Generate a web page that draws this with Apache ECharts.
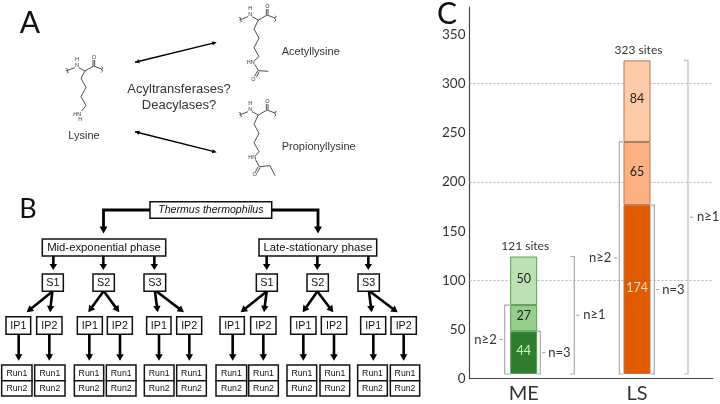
<!DOCTYPE html>
<html>
<head>
<meta charset="utf-8">
<script src="https://cdn.jsdelivr.net/npm/echarts@6/dist/echarts.min.js"></script>
<style>html,body{margin:0;padding:0;background:#fff}#c{width:720px;height:404px}</style>
</head>
<body>
<div id="c"></div>
<script>
// ---- Panel C data ----
const categories = ['ME', 'LS'];
const sitesN3 = [44, 174];
const sitesN2 = [27, 65];
const sitesN1 = [50, 84];
const totals = [121, 323];
const yTicks = [0, 50, 100, 150, 200, 250, 300, 350];
const gridValues = [100, 200, 300];
const bracketLabels = ['n=3', 'n≥2', 'n≥1'];
const bracketMax = [[44, 71, 121], [174, 239, 323]];

// ---- Panel B labels ----
const rootLabel = 'Thermus thermophilus';
const phaseLabels = ['Mid-exponential phase', 'Late-stationary phase'];
const sampleLabels = ['S1', 'S2', 'S3'];
const ipLabels = ['IP1', 'IP2'];
const runLabels = ['Run1', 'Run2'];

// ---- Panel A labels ----
const moleculeLabels = ['Lysine', 'Acetyllysine', 'Propionyllysine'];
const questionLabels = ['Acyltransferases?', 'Deacylases?'];

// ---- layout (not data) ----
const sansFont = '"Liberation Sans"';
const calFont = 'Lato';

const g = [];
function txt(x, y, text, size, opt) {
  opt = opt || {};
  g.push({type: 'text', z: 20, style: {x, y, text, fill: opt.fill || '#111',
    font: (opt.italic ? 'italic ' : '') + size + 'px ' + (opt.family || sansFont),
    textAlign: opt.align || 'center', textVerticalAlign: 'middle'}});
}
function line(pts, w, color) {
  g.push({type: 'polyline', z: 10, shape: {points: pts},
    style: {stroke: color || '#222', lineWidth: w, fill: null, lineJoin: 'miter'}});
}
function head(x1, y1, x2, y2, len, wid, color) {
  const a = Math.atan2(y2 - y1, x2 - x1), c = Math.cos(a), s = Math.sin(a);
  const bx = x2 - c * len, by = y2 - s * len;
  g.push({type: 'polygon', z: 11, shape: {points: [[x2, y2],
    [bx - s * wid / 2, by + c * wid / 2], [bx + s * wid / 2, by - c * wid / 2]]},
    style: {fill: color || '#000'}});
}
function arrow(pts, w, len, wid, both) {
  const n = pts.length, a = Math.atan2(pts[n-1][1]-pts[n-2][1], pts[n-1][0]-pts[n-2][0]);
  const drawn = pts.map(p => p.slice());
  drawn[n-1] = [pts[n-1][0] - Math.cos(a)*len*0.8, pts[n-1][1] - Math.sin(a)*len*0.8];
  line(drawn, w, '#000');
  head(pts[n-2][0], pts[n-2][1], pts[n-1][0], pts[n-1][1], len, wid);
  if (both) head(pts[1][0], pts[1][1], pts[0][0], pts[0][1], len, wid);
}
function box(x1, y1, x2, y2, label, size, opt) {
  g.push({type: 'rect', z: 8, shape: {x: x1, y: y1, width: x2 - x1, height: y2 - y1},
    style: {fill: '#fff', stroke: '#111', lineWidth: 1.5}});
  txt((x1 + x2) / 2, (y1 + y2) / 2 + 0.3, label, size, opt);
}

// ---- panel letters ----
txt(30, 23, 'A', 30, {family: calFont});
txt(28, 209, 'B', 27, {family: calFont});
txt(447, 14, 'C', 30, {family: calFont});

// ---- Panel A structures (drawn in 1/3-pixel sketch units) ----
const s3 = p => [p[0] / 3, p[1] / 3];
function skeleton(dx, dy) {
  const P = pts => pts.map(p => s3([p[0] + dx, p[1] + dy]));
  line(P([[197, 205], [203, 208], [199, 212], [205, 216], [201, 220]]), 0.7);
  line(P([[201, 212], [224, 203]]), 0.8);
  line(P([[236, 203], [255, 213], [281, 198], [305, 207]]), 0.8);
  line(P([[279, 197], [279, 180]]), 0.8);
  line(P([[284, 197], [284, 180]]), 0.8);
  line(P([[305, 200], [309, 204], [304, 208], [308, 213], [303, 218]]), 0.7);
  txt((231 + dx) / 3, (177 + dy) / 3, 'H', 5.5, {fill: '#333'});
  txt((231 + dx) / 3, (197 + dy) / 3, 'N', 5.5, {fill: '#333'});
  txt((282 + dx) / 3, (172 + dy) / 3, 'O', 5.5, {fill: '#333'});
}
skeleton(0, 0);
line([[255,213],[243,235],[258,262],[243,290],[258,317],[245,333]].map(s3), 0.8);
txt(232/3, 342/3, 'HN', 5.5, {fill: '#333'});
txt(241/3, 358/3, 'H', 5.5, {fill: '#333'});

skeleton(520, -153);
line([[775,60],[762,87],[777,115],[762,143],[777,170],[763,182]].map(s3), 0.8);
txt(752/3, 187/3, 'HN', 5.5, {fill: '#333'});
line([[764,193],[776,212],[805,214]].map(s3), 0.8);
line([[773,212],[764,229]].map(s3), 0.8);
line([[778,215],[769,232]].map(s3), 0.8);
txt(760/3, 238/3, 'O', 5.5, {fill: '#333'});

skeleton(520, 132);
line([[775,345],[762,372],[777,400],[762,428],[777,455],[767,466]].map(s3), 0.8);
txt(757/3, 472/3, 'HN', 5.5, {fill: '#333'});
line([[766,478],[778,500],[810,497],[825,527]].map(s3), 0.8);
line([[775,500],[766,515]].map(s3), 0.8);
line([[780,503],[771,518]].map(s3), 0.8);
txt(764/3, 523/3, 'O', 5.5, {fill: '#333'});

txt(84, 135.5, moleculeLabels[0], 11, {fill: '#333'});
txt(281.7, 52, moleculeLabels[1], 11, {align: 'left', fill: '#333'});
txt(281.7, 146.5, moleculeLabels[2], 11, {align: 'left', fill: '#333'});
txt(179, 89.5, questionLabels[0], 13, {fill: '#333'});
txt(179, 105, questionLabels[1], 13, {fill: '#333'});
arrow([[135, 62.3], [216.7, 42.3]], 1.4, 4.5, 4, true);
arrow([[135, 131.7], [216.7, 152.3]], 1.4, 4.5, 4, true);

// ---- Panel B flow diagram ----
const Y = v => v / 3 + 190;
box(150, Y(35), 271.7, Y(85), rootLabel, 10.6, {italic: true});
arrow([[150, 210], [103.5, 210], [103.5, 233.5]], 2.8, 7, 8);
arrow([[271.7, 210], [318, 210], [318, 233.5]], 2.8, 7, 8);
box(42.3, 239, 165.7, 256, phaseLabels[0], 11.3);
box(259, 239, 376.7, 256, phaseLabels[1], 11.3);
const sBox = [[127,190],[279,343],[432,497],[769,832],[921,985],[1074,1138]];
const phaseArrowX = [160,310,463,800,952,1105];
sBox.forEach((b, i) => {
  box(b[0]/3, 274, b[1]/3, 291.3, sampleLabels[i % 3], 10.8);
  arrow([[phaseArrowX[i]/3, 256], [phaseArrowX[i]/3, 270]], 2.6, 6, 7.5);
});
const ipBox = [[18,92],[110,186],[232,307],[322,397],[440,513],[530,605],
               [660,733],[752,828],[872,948],[964,1040],[1082,1157],[1173,1249]];
const ipArrow = [[157,80],[157,150],[310,265],[312,358],[465,473],[470,552],
                 [800,722],[800,792],[952,908],[952,1000],[1107,1115],[1110,1193]];
const runX = [56,148,268,360,477,568,698,790,910,1002,1120,1211];
const runBox = [[5,96],[104,195],[223,311],[319,408],[433,522],[530,619],
                [648,740],[746,835],[861,950],[960,1049],[1073,1162],[1171,1259]];
ipBox.forEach((b, i) => {
  box(b[0]/3, 316.7, b[1]/3, 334.3, ipLabels[i % 2], 10.7);
  arrow([[ipArrow[i][0]/3, 291.5], [ipArrow[i][1]/3, 312.3]], 2.6, 6.5, 7.5);
  arrow([[runX[i]/3, 334.3], [runX[i]/3, 360.7]], 2.6, 6.5, 7.5);
  box(runBox[i][0]/3, 365, runBox[i][1]/3, 380.7, runLabels[0], 8.7);
  box(runBox[i][0]/3, 380.7, runBox[i][1]/3, 396, runLabels[1], 8.7);
});

// ---- Panel C ----
const colors = [['#2f7d2e', '#e05a00'], ['#96cf8c', '#fdb182'], ['#bde0b5', '#fecbaa']];
const borders = ['#5f9c5a', '#b5795a'];
const textCols = [['#d9efd4', '#fbdcc0'], ['#222', '#222'], ['#222', '#222']];
function barSeries(name, values, level) {
  return {
    type: 'bar', name, stack: 'sites', barWidth: 27, z: 3, xAxisIndex: 1, yAxisIndex: 1,
    data: values.map((v, i) => ({
      value: v,
      itemStyle: {color: colors[level][i], borderColor: borders[i], borderWidth: 1},
      label: {color: textCols[level][i]}
    })),
    label: {show: true, position: 'inside', offset: [0, -2], fontFamily: calFont, fontSize: 12.5,
      formatter: p => String(p.value)}
  };
}
// bracket styling: pixel offset of the bracket from its bar, per [n=3, n≥2, n≥1]
const bracketOffset = [[16.6, -19, 50.6], [17.3, -17.7, 51]];
const bracketData = [];
bracketMax.forEach((arr, c) => arr.forEach((top, k) => bracketData.push([categories[c], top, c, k])));

const axisTop = 7, axisH = 371.7;
const option = {
  animation: false,
  backgroundColor: '#fff',
  textStyle: {fontFamily: calFont},
  graphic: {elements: g},
  grid: [
    {left: 469.5, top: axisTop, width: 243.2, height: axisH},
    {left: 467.05, top: axisTop, width: 226.6, height: axisH}
  ],
  xAxis: [
    {gridIndex: 0, type: 'value', min: 0, max: 1, splitLine: {show: false},
      axisLine: {show: true, onZero: false, lineStyle: {color: '#444', width: 1.2}},
      axisTick: {show: false}, axisLabel: {show: false}},
    {gridIndex: 1, type: 'category', data: categories,
      axisLine: {show: false}, axisTick: {show: false},
      axisLabel: {margin: 10, fontFamily: calFont, fontSize: 20, color: '#333'}}
  ],
  yAxis: [
    {gridIndex: 0, type: 'value', min: 0, max: 378, interval: 50,
      splitLine: {show: false},
      axisLine: {show: true, lineStyle: {color: '#444', width: 1.2}},
      axisTick: {show: false},
      axisLabel: {customValues: yTicks, margin: 4, fontFamily: calFont, fontSize: 13.5, color: '#333'}},
    {gridIndex: 1, type: 'value', min: 0, max: 378, show: false, splitLine: {show: false}}
  ],
  series: [
    {type: 'line', xAxisIndex: 0, yAxisIndex: 0, data: [], silent: true, symbol: 'none',
      markLine: {silent: true, symbol: 'none', label: {show: false}, z: 1,
        lineStyle: {type: [2, 2], color: '#b5b5b5', width: 1},
        data: gridValues.map(v => ({yAxis: v}))}},
    barSeries('n=3', sitesN3, 0),
    barSeries('n≥2', sitesN2, 1),
    barSeries('n≥1', sitesN1, 2),
    {
      type: 'custom', z: 5, silent: true, xAxisIndex: 1, yAxisIndex: 1, encode: {x: 0, y: 1},
      data: bracketData,
      renderItem: (params, api) => {
        const top = api.value(1), c = api.value(2), k = api.value(3);
        const off = bracketOffset[c][k];
        const pTop = api.coord([api.value(0), top]), pBot = api.coord([api.value(0), 0]);
        const x = pTop[0] + off;
        const dir = off > 0 ? 1 : -1;
        const inner = (k === 2) ? -4 * dir : -(Math.abs(off) - 13.5) * dir;
        const mid = (pTop[1] + pBot[1]) / 2;
        const stroke = k === 2 && c === 1 ? '#bbb' : '#aaa';
        const style = {stroke, lineWidth: 1.2, fill: null};
        return {type: 'group', children: [
          {type: 'polyline', shape: {points: [[x + inner, pTop[1]], [x, pTop[1]], [x, pBot[1]], [x + inner, pBot[1]]]}, style},
          {type: 'line', shape: {x1: x + dir * 2, y1: mid, x2: x + dir * 5, y2: mid}, style: {stroke: '#999', lineWidth: 1}},
          {type: 'text', style: {x: x + dir * (k === 2 ? 9 : 8), y: mid, text: bracketLabels[k], fill: '#333',
            font: '13px ' + calFont, textAlign: dir > 0 ? 'left' : 'right', textVerticalAlign: 'middle'}}
        ]};
      }
    },
    {
      type: 'custom', z: 6, silent: true, xAxisIndex: 1, yAxisIndex: 1, encode: {x: 0, y: 1},
      data: totals.map((t, i) => [categories[i], t]),
      renderItem: (params, api) => {
        const p = api.coord([api.value(0), api.value(1)]);
        return {type: 'text', style: {x: p[0] + 1.5, y: p[1] - 10, text: totals[params.dataIndex] + ' sites', fill: '#333',
          font: '12px ' + calFont, textAlign: 'center', textVerticalAlign: 'middle'}};
      }
    }
  ]
};
const chart = echarts.init(document.getElementById('c'), null, {renderer: 'canvas'});
chart.setOption(option);
</script>
</body>
</html>
